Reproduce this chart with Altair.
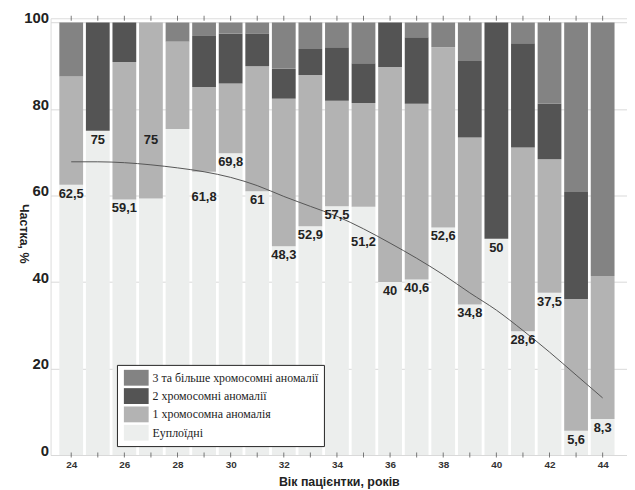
import altair as alt
import pandas as pd

ages = list(range(24, 45))
euploid = [62.5, 75, 59.1, 59.3, 75.4, 65.5, 69.8, 61.0, 48.3, 52.9, 57.5,
           57.4, 40.0, 40.6, 52.6, 34.8, 50.0, 28.6, 37.5, 5.6, 8.3]
one_anom = [25.0, 0, 31.8, 40.7, 20.2, 19.6, 16.1, 28.9, 34.1, 35.0, 24.4,
            24.0, 49.7, 40.6, 41.7, 38.6, 0, 42.5, 30.9, 30.5, 33.1]
two_anom = [0, 25, 9.1, 0, 0, 11.8, 11.6, 7.6, 6.9, 6.0, 12.4,
            9.2, 10.3, 15.4, 0, 17.7, 50, 24.1, 12.8, 24.7, 0]
three_anom = [12.5, 0, 0, 0, 4.4, 3.1, 2.5, 2.5, 10.7, 6.1, 5.7,
              9.4, 0, 3.4, 5.7, 8.9, 0, 4.8, 18.8, 39.2, 58.6]
labels = ["62,5", "75", "59,1", "75", "", "61,8", "69,8", "61", "48,3", "52,9", "57,5",
          "51,2", "40", "40,6", "52,6", "34,8", "50", "28,6", "37,5", "5,6", "8,3"]
trend = [67.8, 67.8, 67.6, 67.1, 66.4, 65.5, 64.2, 62.3, 59.8, 57.5, 55.2,
         52.3, 49.0, 45.5, 41.7, 37.5, 33.5, 28.8, 23.8, 18.5, 13.2]
series_names = ["3 та більше хромосомні аномалії", "2 хромосомні аномалії",
                "1 хромосомна аномалія", "Еуплоїдні"]
series_colors = ["#838383", "#545454", "#b3b3b3", "#eceeed"]
y_ticks = [0, 20, 40, 60, 80, 100]

rows = []
for i, a in enumerate(ages):
    for order, (name, vals) in enumerate(zip(series_names[::-1],
                                               [euploid, one_anom, two_anom, three_anom])):
        rows.append({"age": a, "series": name, "value": vals[i], "ord": order})
bars_df = pd.DataFrame(rows)

lab_df = pd.DataFrame({"age": ages, "label": labels})
lab_df = lab_df[lab_df["label"] != ""].copy()
lab_df["pos"] = lab_df["label"].str.replace(",", ".").astype(float)

trend_df = pd.DataFrame({"age": ages, "trend": trend})
tick_df = pd.DataFrame({"age": ages})

xscale = alt.Scale(domain=[23.41, 44.73], nice=False, zero=False)
yscale = alt.Scale(domain=[0, 101], nice=False)

xaxis = alt.Axis(values=ages, labelExpr="datum.value % 2 == 0 ? datum.label : ''",
                 ticks=False, domain=False, grid=False, labelFontSize=10,
                 labelFontWeight="bold", labelColor="#333", labelPadding=5,
                 titleFontSize=12.5, titleFontWeight="bold", titleColor="#222",
                 titlePadding=6, labelFont="Liberation Sans", titleFont="Liberation Sans")
yaxis = alt.Axis(values=y_ticks, ticks=False, domain=False, grid=True,
                 gridColor="#d9d9d9", labelFontSize=15, labelFontWeight="bold",
                 labelColor="#222", labelBaseline="alphabetic", labelPadding=2,
                 title="Частка, %", titleAngle=90, titleFontSize=12.5,
                 titleFontWeight="bold", titleColor="#222",
                 titleX=-27, titleY=217, titleAlign="center", titleBaseline="middle",
                 labelFont="Liberation Sans", titleFont="Liberation Sans")

bars = alt.Chart(bars_df).mark_bar(width=24).encode(
    x=alt.X("age:Q", scale=xscale, axis=xaxis, title="Вік пацієнтки, років"),
    y=alt.Y("sum(value):Q", scale=yscale, axis=yaxis, stack="zero"),
    color=alt.Color("series:N",
                    scale=alt.Scale(domain=series_names, range=series_colors),
                    legend=alt.Legend(title=None, orient="none", legendX=67, legendY=350,
                                      direction="vertical", fillColor="white",
                                      strokeColor="#222", padding=5, rowPadding=2.5,
                                      symbolType="M-0.75,-1H2.375V1H-0.75Z",
                                      symbolSize=256, symbolStrokeWidth=0,
                                      symbolOpacity=1, labelOffset=15,
                                      labelFontSize=12, labelFont="Liberation Sans Narrow",
                                      labelColor="#222", labelLimit=400)),
    order=alt.Order("ord:Q", sort="ascending"),
)

line = alt.Chart(trend_df).mark_line(interpolate="monotone", color="#555",
                                     strokeWidth=1).encode(
    x=alt.X("age:Q", scale=xscale),
    y=alt.Y("trend:Q", scale=yscale),
)

text = alt.Chart(lab_df).mark_text(baseline="top", dy=3, fontSize=13,
                                   fontWeight="bold", color="#222",
                                   font="Liberation Sans").encode(
    x=alt.X("age:Q", scale=xscale),
    y=alt.Y("pos:Q", scale=yscale),
    text="label:N",
)

top_ticks = alt.Chart(tick_df).mark_tick(orient="vertical", size=5, thickness=1,
                                         color="#444").encode(
    x=alt.X("age:Q", scale=xscale), y=alt.datum(101))
bot_ticks = alt.Chart(tick_df).mark_tick(orient="vertical", size=5, thickness=1,
                                         color="#444").encode(
    x=alt.X("age:Q", scale=xscale), y=alt.datum(0))

chart = alt.layer(bars, line, text, top_ticks, bot_ticks).properties(
    width=582, height=441,
    padding={"left": 9, "top": 0, "right": 0, "bottom": 0},
).configure_view(stroke="#444", strokeWidth=1).configure(background="white")

chart.save("out.html", embed_options={"renderer": "svg", "actions": False})
